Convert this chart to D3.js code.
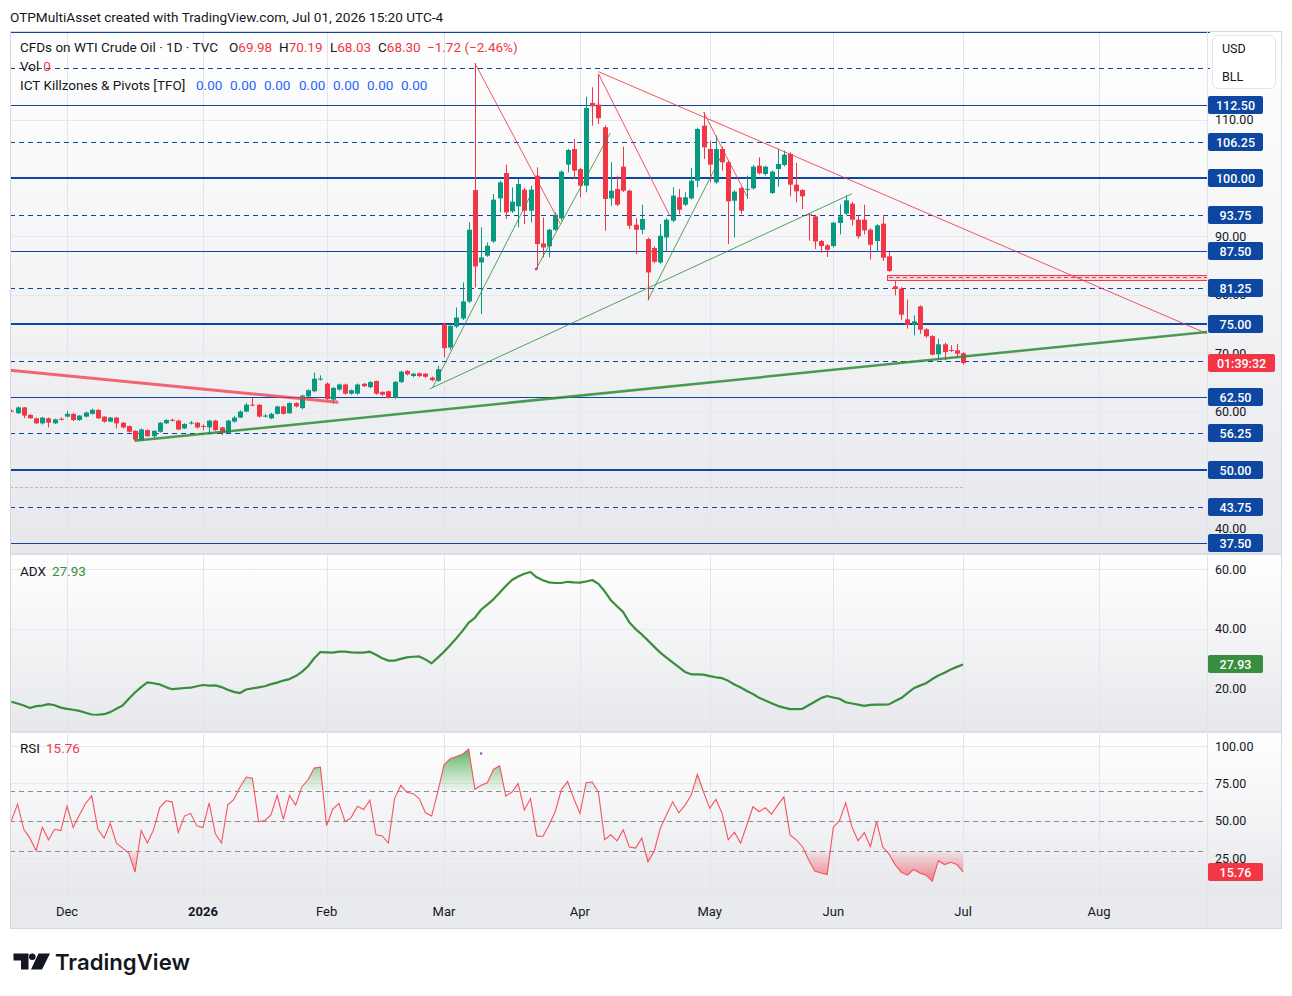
<!DOCTYPE html>
<html>
<head>
<meta charset="utf-8">
<script src="https://cdn.jsdelivr.net/npm/d3@7"></script>
<style>
  body { margin: 0; background: #fff; }
  svg { display: block; font-family: Roboto, "Noto Sans", sans-serif; }
</style>
</head>
<body>
<svg id="chart" width="1292" height="996"></svg>
<script>
// daily candles [open, high, low, close], Nov 17 2025 -> Jul 01 2026
var candles = [
  [60.15,60.4,59.9,60.1],[59.72,60.9,59.6,60.71],[60.71,60.8,58.85,59.32],[59.43,59.6,58.8,58.85],
  [58.85,59.0,57.9,57.99],[57.99,59.1,57.8,58.97],[58.85,59.0,57.29,58.1],[57.99,58.8,57.9,58.68],
  [58.78,59.0,58.5,58.72],[59.14,60.13,59.0,59.61],[59.61,59.8,58.4,58.56],[58.56,59.4,58.4,59.32],
  [59.14,60.0,59.0,59.84],[59.61,60.5,59.5,60.3],[60.3,60.4,58.7,58.85],[59.14,59.2,58.1,58.28],
  [58.28,59.1,58.2,58.97],[58.97,59.1,57.12,57.99],[58.1,58.2,57.1,57.29],[57.52,57.6,56.4,56.54],
  [56.71,56.8,55.1,55.21],[55.1,57.1,55.0,56.94],[56.83,57.0,55.7,55.79],[55.79,56.8,55.5,56.71],
  [56.54,58.2,56.4,58.1],[57.99,58.7,57.9,58.56],[58.6,58.8,58.3,58.5],[58.45,58.6,56.8,56.94],
  [57.12,58.0,57.0,57.87],[58.05,58.4,57.8,58.12],[58.1,58.2,57.1,57.29],[57.55,57.8,56.83,57.5],
  [57.29,58.6,56.37,58.45],[58.45,58.6,56.7,56.83],[57.29,57.4,55.96,56.37],[56.37,58.6,56.2,58.45],
  [58.28,59.2,58.1,58.97],[58.97,60.2,58.9,60.01],[60.01,61.5,59.9,61.17],[61.2,62.33,60.9,61.15],
  [61.17,61.3,59.0,59.14],[59.25,59.6,59.0,59.32],[58.85,59.8,58.7,59.61],[59.61,61.0,59.5,60.88],
  [60.88,61.0,59.5,59.61],[59.72,61.6,59.6,61.46],[61.46,61.6,60.7,60.88],[60.59,62.9,60.4,62.73],
  [62.62,63.8,62.5,63.66],[63.48,66.67,63.3,65.63],[65.6,66.2,65.3,65.66],[64.81,65.0,62.0,62.15],
  [62.04,64.2,61.34,64.06],[63.77,64.8,63.6,64.64],[64.64,64.8,62.9,63.08],[63.08,63.8,62.9,63.66],
  [63.08,64.8,62.9,64.64],[64.76,64.9,64.2,64.35],[64.18,65.2,64.0,65.05],[65.22,65.3,62.9,63.08],
  [63.37,63.5,62.7,62.9],[63.48,63.6,62.2,62.33],[62.33,65.2,62.2,65.1],[65.05,67.0,64.9,66.84],
  [66.96,67.1,66.2,66.38],[66.09,66.6,65.9,66.49],[66.55,66.7,65.9,66.09],[66.49,66.6,65.8,65.97],
  [65.83,66.0,65.2,65.37],[65.26,67.83,65.1,67.26],[74.97,75.2,69.26,70.86],[70.97,75.0,70.6,74.69],
  [74.57,77.83,74.3,76.11],[75.94,82.11,75.7,78.86],[78.86,92.4,78.6,91.14],[97.94,119.66,81.26,84.86],
  [85.54,91.54,76.69,86.4],[86.69,88.97,86.5,88.4],[89.14,97.26,88.9,96.29],[96.51,99.5,94.11,99.26],
  [100.86,102.29,92.97,94.11],[94.29,98.4,94.0,95.94],[95.14,99.83,91.54,98.97],[98.0,98.3,92.11,94.4],
  [94.4,98.69,92.4,98.0],[100.4,101.83,84.4,88.69],[88.8,93.26,86.4,88.11],[88.29,91.3,86.4,91.14],
  [91.14,94.11,90.9,93.71],[93.09,101.3,92.7,101.09],[102.29,105.0,100.97,104.8],[104.97,106.69,99.83,101.26],
  [101.54,101.7,96.69,98.69],[98.69,113.94,97.54,112.0],[112.86,115.54,108.97,112.29],[112.57,117.83,109.26,110.23],
  [108.69,109.0,90.97,96.4],[96.51,102.69,95.26,97.83],[98.11,100.4,95.2,95.43],[101.94,105.37,97.6,97.83],
  [97.83,98.0,91.26,91.83],[92.0,93.14,86.97,91.14],[91.14,95.43,90.4,92.97],[89.54,89.8,79.09,83.83],
  [88.0,88.3,85.43,85.66],[85.54,92.11,85.3,90.11],[89.83,93.1,87.54,92.86],[92.69,98.4,92.4,96.97],
  [96.69,98.11,93.83,94.57],[95.43,97.54,95.2,96.69],[96.51,101.71,96.3,99.54],[99.54,108.6,98.4,108.4],
  [108.97,111.26,103.26,105.26],[104.97,106.4,99.26,102.29],[99.26,107.26,99.0,104.97],[104.97,105.37,101.26,102.69],
  [102.69,103.0,88.69,96.0],[96.11,97.9,89.83,97.66],[98.29,98.5,93.83,94.4],[98.0,100.4,96.4,98.15],
  [98.23,102.2,98.0,101.94],[102.11,103.54,100.6,100.8],[100.69,102.1,100.4,101.94],[97.43,101.3,97.26,101.09],
  [101.54,104.97,98.51,102.4],[102.23,104.69,102.0,104.0],[104.11,104.4,96.86,98.86],[98.86,102.57,95.83,97.71],
  [97.94,98.1,94.69,96.86],[93.8,94.0,89.26,93.65],[93.43,93.6,87.83,89.14],[89.21,89.4,87.21,88.36],
  [88.47,88.7,86.47,87.73],[88.36,92.5,88.1,92.35],[92.29,95.49,90.35,93.44],[93.89,97.03,93.6,96.18],
  [95.6,95.9,91.89,92.86],[92.86,93.61,89.61,90.01],[92.86,95.43,90.35,91.04],[91.15,91.4,86.02,88.58],
  [89.21,92.1,87.33,91.89],[92.18,93.61,85.79,86.36],[86.59,87.33,83.9,84.08],[81.45,82.48,79.91,80.99],
  [81.05,81.3,75.63,76.6],[75.8,79.17,74.2,74.88],[74.88,76.48,73.06,75.46],[78.02,78.2,73.34,74.03],
  [74.09,74.3,72.66,72.89],[72.94,73.1,69.63,69.75],[69.81,72.49,68.9,71.52],[71.52,71.8,68.78,70.2],
  [70.55,71.35,70.2,70.45],[70.49,71.6,69.35,69.92],[69.98,70.19,68.03,68.30]
];

var adx = [
  15.4,14.8,14.1,13.3,13.9,14.1,14.6,14.2,13.4,13.0,12.7,12.3,11.7,11.1,11.0,11.2,11.9,13.0,14.1,16.4,
  18.5,20.3,21.9,21.6,21.2,20.3,19.6,19.8,20.0,20.1,20.6,21.0,20.8,20.9,20.3,19.4,18.7,18.3,19.5,19.9,
  20.2,20.6,21.3,21.8,22.5,23.0,24.0,25.4,27.3,30.0,32.1,32.0,31.9,32.2,32.2,32.0,31.9,31.9,32.2,31.2,
  30.0,29.2,29.2,29.8,30.3,30.5,30.6,29.6,28.3,30.2,32.2,34.4,36.7,39.2,42.0,43.6,46.3,48.0,49.8,52.0,
  54.3,56.3,57.5,58.4,59.0,57.2,56.2,55.5,55.3,55.3,55.7,55.5,55.4,55.8,56.3,55.0,52.5,49.5,47.5,45.5,
  42.0,39.8,38.0,36.0,33.9,31.9,30.2,28.6,27.0,25.4,24.6,24.6,24.5,24.0,23.6,23.3,22.4,21.2,20.2,19.0,
  18.0,16.7,15.8,14.9,14.0,13.4,12.9,12.9,13.0,14.2,15.4,16.6,17.3,16.8,16.4,15.2,14.8,14.4,14.0,14.3,
  14.4,14.4,14.5,15.6,16.6,18.3,19.9,20.8,21.6,23.0,24.2,25.1,26.2,27.1,27.93
];

var rsi = [
  50.0,61.1,44.2,38.3,29.9,45.6,37.2,44.2,43.4,59.7,45.4,53.8,61.5,66.6,44.2,38.3,48.2,35.0,31.6,28.3,
  15.5,43.4,35.0,43.8,58.8,63.3,62.6,42.0,53.1,54.9,46.5,45.4,61.9,41.2,35.0,60.4,64.2,72.6,79.2,78.5,
  49.3,50.0,53.8,67.0,50.9,67.0,60.4,72.6,77.4,85.2,85.8,46.7,57.7,61.5,49.3,52.2,59.7,57.5,63.7,40.5,
  39.8,35.0,64.8,73.7,69.0,68.1,64.8,55.3,53.1,69.2,87.4,91.4,92.9,94.5,98.0,71.0,73.7,75.4,84.3,86.7,
  66.4,69.2,74.8,57.1,64.8,39.8,39.4,47.1,56.0,70.8,76.3,64.8,54.9,75.4,75.9,68.8,37.2,40.5,36.5,43.8,
  32.3,31.6,38.3,22.5,29.4,44.9,53.8,62.6,55.3,60.4,67.0,81.0,69.2,58.2,64.2,54.9,37.2,42.3,35.0,47.1,
  59.3,56.0,58.6,54.4,60.4,65.9,40.5,37.2,32.7,23.9,16.2,15.0,13.9,45.6,50.0,61.9,46.0,36.5,42.0,32.7,
  49.3,32.3,27.7,20.6,15.5,13.5,17.3,15.0,13.5,9.5,23.2,20.6,22.1,20.6,15.76
];

var holidays = ["2025-11-27", "2025-12-25", "2026-01-01", "2026-01-19", "2026-02-16",
                "2026-04-03", "2026-05-25", "2026-06-19", "2026-07-03"];

// hand drawn horizontal levels
var levels = [37.5, 43.75, 50, 56.25, 62.5, 68.75, 75, 81.25, 87.5, 93.75, 100, 106.25, 112.5, 118.75, 125];
var levelLabels = [37.5, 43.75, 50, 56.25, 62.5, 81.25, 75, 87.5, 93.75, 100, 106.25, 112.5];
var priceTicks = [40, 60, 70, 80, 90, 110];
var priceGrid = [40, 50, 60, 70, 80, 90, 100, 110];
var adxTicks = [20, 40, 60];
var rsiTicks = [25, 50, 75, 100];
var rsiBands = [30, 50, 70];

// trend lines in [bar index, price]
var redLines = [
  { pts: [[-0.3, 67.1], [52.9, 61.6]], w: 3, op: 0.75 },
  { pts: [[75, 119.66], [88.8, 92.2]], w: 1, op: 0.85 },
  { pts: [[95, 117.83], [106.6, 93.4]], w: 1, op: 0.85 },
  { pts: [[95, 118.2], [194, 73.1]], w: 1, op: 0.85 },
  { pts: [[112, 111.3], [119, 96.9]], w: 1, op: 0.85 }
];
var greenLines = [
  { pts: [[19.9, 55.0], [194, 73.7]], w: 2.5, op: 0.85 },
  { pts: [[67.7, 63.9], [136, 97.3]], w: 1, op: 0.8 },
  { pts: [[68.2, 64.2], [84, 97.0]], w: 1, op: 0.8 },
  { pts: [[84.9, 84.4], [96.9, 107.7]], w: 1, op: 0.8 },
  { pts: [[103, 79.1], [114.7, 103.4]], w: 1, op: 0.8 }
];
var zone = { from: 142, top: 83.45, bottom: 82.65 };
var greyLevel = 47.1;
var pivotDots = [[84.9, 84.4]];
var rsiDots = [[76, 95]];

var last = { o: 69.98, h: 70.19, l: 68.03, c: 68.30, chg: "\u22121.72 (\u22122.46%)" };

// ---------------------------------------------------------------------------
var svg = d3.select("#chart");
var left = 10, plotRight = 1207, right = 1281;
var mainTop = 32, mainBot = 553, adxTop = 555, adxBot = 731, rsiTop = 733, rsiBot = 897, axisBot = 928;
var green = "#089981", red = "#f23645", navy = "#0d47a1", textCol = "#131722";

var isHoliday = {};
holidays.forEach(function(h) { isHoliday[h] = true; });
var fmtDay = d3.timeFormat("%Y-%m-%d");
var days = d3.timeDay.range(new Date(2025, 10, 17), new Date(2026, 8, 1)).filter(function(d) {
  return d.getDay() !== 0 && d.getDay() !== 6 && !isHoliday[fmtDay(d)];
});

var x = d3.scaleLinear().domain([0, candles.length - 1]).range([11.4, 963.1]);
var yP = d3.scaleLinear().domain([37.5, 125]).range([543, 32]);
var yA = d3.scaleLinear().domain([20, 60]).range([688, 569]);
var yR = d3.scaleLinear().domain([25, 100]).range([858, 746]);
function crisp(v) { return Math.round(v) + 0.5; }

var defs = svg.append("defs");
var pg = defs.append("linearGradient").attr("id", "paneGrad").attr("x1", 0).attr("y1", 0).attr("x2", 0).attr("y2", 1);
pg.append("stop").attr("offset", "0%").attr("stop-color", "#ffffff");
pg.append("stop").attr("offset", "100%").attr("stop-color", "#e7e8ec");

function clip(id, y0, y1) {
  defs.append("clipPath").attr("id", id).append("rect")
    .attr("x", left).attr("y", y0).attr("width", plotRight - left).attr("height", y1 - y0);
}
clip("clipMain", mainTop, mainBot);
clip("clipAdx", adxTop, adxBot);
clip("clipRsi", rsiTop, rsiBot);
clip("clipOB", rsiTop, yR(70));
clip("clipOS", yR(30), rsiBot);

var gOB = defs.append("linearGradient").attr("id", "obGrad").attr("gradientUnits", "userSpaceOnUse")
  .attr("x1", 0).attr("x2", 0).attr("y1", yR(100)).attr("y2", yR(70));
gOB.append("stop").attr("offset", "0%").attr("stop-color", "#2e9d3a").attr("stop-opacity", 0.85);
gOB.append("stop").attr("offset", "100%").attr("stop-color", "#4caf50").attr("stop-opacity", 0.04);
var gOS = defs.append("linearGradient").attr("id", "osGrad").attr("gradientUnits", "userSpaceOnUse")
  .attr("x1", 0).attr("x2", 0).attr("y1", yR(30)).attr("y2", yR(5));
gOS.append("stop").attr("offset", "0%").attr("stop-color", red).attr("stop-opacity", 0.04);
gOS.append("stop").attr("offset", "100%").attr("stop-color", red).attr("stop-opacity", 0.7);

// header
svg.append("text").attr("x", 10).attr("y", 22).attr("font-size", 13.6).attr("fill", textCol)
  .text("OTPMultiAsset created with TradingView.com, Jul 01, 2026 15:20 UTC-4");

// pane backgrounds
[[mainTop - 1, mainBot], [adxTop, adxBot], [rsiTop, rsiBot]].forEach(function(p) {
  svg.append("rect").attr("x", left).attr("y", p[0]).attr("width", right - left)
    .attr("height", p[1] - p[0]).attr("fill", "url(#paneGrad)");
});
svg.append("rect").attr("x", left).attr("y", rsiBot).attr("width", right - left)
  .attr("height", axisBot - rsiBot).attr("fill", "#e9eaee");
[mainBot, adxBot].forEach(function(y) {
  svg.append("rect").attr("x", left).attr("y", y).attr("width", right - left).attr("height", 2).attr("fill", "#dcdee4");
});

// month ticks
var monthTicks = [];
for (var i = 1; i < days.length; i++) {
  if (days[i].getMonth() !== days[i - 1].getMonth()) monthTicks.push({ i: i, d: days[i] });
}
monthTicks = monthTicks.filter(function(t) { return x(t.i) < plotRight - 20; });

svg.append("g").selectAll("line").data(monthTicks).enter().append("line")
  .attr("x1", function(t) { return crisp(x(t.i)); })
  .attr("x2", function(t) { return crisp(x(t.i)); })
  .attr("y1", mainTop).attr("y2", rsiBot)
  .attr("stroke", "#e3e5ea");

svg.append("g").selectAll("text").data(monthTicks).enter().append("text")
  .attr("x", function(t) { return x(t.i); }).attr("y", 916)
  .attr("text-anchor", "middle").attr("font-size", 13).attr("fill", textCol)
  .attr("font-weight", function(t) { return t.d.getMonth() === 0 ? 700 : 400; })
  .text(function(t) { return t.d.getMonth() === 0 ? d3.timeFormat("%Y")(t.d) : d3.timeFormat("%b")(t.d); });

// horizontal grids
function hgrid(vals, scale) {
  svg.append("g").selectAll("line").data(vals).enter().append("line")
    .attr("x1", left).attr("x2", plotRight)
    .attr("y1", function(v) { return crisp(scale(v)); })
    .attr("y2", function(v) { return crisp(scale(v)); })
    .attr("stroke", "#e6e8ed");
}
hgrid(priceGrid, yP);
hgrid(adxTicks, yA);
hgrid(rsiTicks, yR);

// ---- main pane
var main = svg.append("g");

main.append("line").attr("x1", left).attr("x2", x(candles.length - 1))
  .attr("y1", crisp(yP(greyLevel))).attr("y2", crisp(yP(greyLevel)))
  .attr("stroke", "#b8bbc4").attr("stroke-dasharray", "3,2");

// level lines: every 25 thick, every 12.5 solid, rest dashed
main.append("g").selectAll("line").data(levels).enter().append("line")
  .attr("x1", left).attr("x2", plotRight + 3)
  .attr("y1", function(v) { return v % 25 === 0 ? Math.round(yP(v)) : crisp(yP(v)); })
  .attr("y2", function(v) { return v % 25 === 0 ? Math.round(yP(v)) : crisp(yP(v)); })
  .attr("stroke", navy)
  .attr("stroke-width", function(v) { return v % 25 === 0 ? 2 : 1; })
  .attr("stroke-dasharray", function(v) { return v % 12.5 === 0 ? null : "5,4"; });

var cg = main.append("g").attr("clip-path", "url(#clipMain)");

// red zone
cg.append("rect").attr("x", Math.round(x(zone.from)) - 1.5).attr("y", crisp(yP(zone.top)))
  .attr("width", plotRight - x(zone.from) + 2).attr("height", Math.round(yP(zone.bottom) - yP(zone.top)))
  .attr("fill", "rgba(242,54,69,0.15)").attr("stroke", red).attr("stroke-width", 1);
cg.append("line").attr("x1", x(zone.from)).attr("x2", plotRight)
  .attr("y1", crisp(yP((zone.top + zone.bottom) / 2))).attr("y2", crisp(yP((zone.top + zone.bottom) / 2)))
  .attr("stroke", red).attr("stroke-dasharray", "4,3");

// candles
function col(d) { return d[3] >= d[0] ? green : red; }
cg.selectAll("line.wick").data(candles).enter().append("line")
  .attr("class", "wick")
  .attr("x1", function(d, i) { return crisp(x(i)); })
  .attr("x2", function(d, i) { return crisp(x(i)); })
  .attr("y1", function(d) { return yP(d[1]); })
  .attr("y2", function(d) { return yP(d[2]); })
  .attr("stroke", col);
cg.selectAll("rect.body").data(candles).enter().append("rect")
  .attr("class", "body")
  .attr("x", function(d, i) { return Math.round(x(i)) - 2; })
  .attr("width", 5)
  .attr("y", function(d) { return yP(Math.max(d[0], d[3])); })
  .attr("height", function(d) { return Math.max(1, Math.abs(yP(d[0]) - yP(d[3]))); })
  .attr("fill", col);

// trend lines
var tl = d3.line().x(function(p) { return x(p[0]); }).y(function(p) { return yP(p[1]); });
cg.selectAll("path.red").data(redLines).enter().append("path")
  .attr("d", function(d) { return tl(d.pts); })
  .attr("fill", "none").attr("stroke", "#f23645")
  .attr("stroke-width", function(d) { return d.w; })
  .attr("stroke-opacity", function(d) { return d.op; });
cg.selectAll("path.grn").data(greenLines).enter().append("path")
  .attr("d", function(d) { return tl(d.pts); })
  .attr("fill", "none").attr("stroke", "#2e8b36")
  .attr("stroke-width", function(d) { return d.w; })
  .attr("stroke-opacity", function(d) { return d.op; });
cg.selectAll("circle").data(pivotDots).enter().append("circle")
  .attr("cx", function(p) { return x(p[0]); }).attr("cy", function(p) { return yP(p[1]); })
  .attr("r", 1.3).attr("fill", "#b03fc0");

// ---- ADX pane
svg.append("path").datum(adx).attr("clip-path", "url(#clipAdx)")
  .attr("d", d3.line().x(function(d, i) { return x(i); }).y(function(d) { return yA(d); }))
  .attr("fill", "none").attr("stroke", "#388e3c").attr("stroke-width", 2.2).attr("stroke-linejoin", "round");

// ---- RSI pane
svg.append("g").selectAll("line").data(rsiBands).enter().append("line")
  .attr("x1", left).attr("x2", plotRight)
  .attr("y1", function(v) { return crisp(yR(v)); }).attr("y2", function(v) { return crisp(yR(v)); })
  .attr("stroke", "#8a8d96").attr("stroke-dasharray", "5,4");
var rx = function(d, i) { return x(i); };
svg.append("path").datum(rsi).attr("clip-path", "url(#clipOB)")
  .attr("d", d3.area().x(rx).y0(yR(70)).y1(function(d) { return yR(d); }))
  .attr("fill", "url(#obGrad)");
svg.append("path").datum(rsi).attr("clip-path", "url(#clipOS)")
  .attr("d", d3.area().x(rx).y0(yR(30)).y1(function(d) { return yR(d); }))
  .attr("fill", "url(#osGrad)");
svg.append("path").datum(rsi).attr("clip-path", "url(#clipRsi)")
  .attr("d", d3.line().x(rx).y(function(d) { return yR(d); }))
  .attr("fill", "none").attr("stroke", "#f7525f").attr("stroke-width", 1.1);
svg.append("g").selectAll("circle").data(rsiDots).enter().append("circle")
  .attr("cx", function(p) { return x(p[0]); }).attr("cy", function(p) { return yR(p[1]); })
  .attr("r", 1.2).attr("fill", "#b03fc0");

// ---- frame
svg.append("line").attr("x1", plotRight + 0.5).attr("x2", plotRight + 0.5).attr("y1", mainTop).attr("y2", axisBot)
  .attr("stroke", "#e0e3eb");
svg.append("rect").attr("x", left + 0.5).attr("y", 31.5).attr("width", right - left).attr("height", axisBot - 31)
  .attr("fill", "none").attr("stroke", "#d6d8de");

// ---- right axis
var ax = svg.append("g").attr("font-size", 12.5);
function tickLabels(vals, scale) {
  ax.append("g").selectAll("text").data(vals).enter().append("text")
    .attr("x", 1215).attr("y", function(v) { return scale(v) + 4.5; })
    .attr("fill", textCol).text(function(v) { return v.toFixed(2); });
}
tickLabels(priceTicks, yP);
tickLabels(adxTicks, yA);
tickLabels(rsiTicks, yR);

function badge(yc, w, fill, label) {
  var g = ax.append("g");
  g.append("rect").attr("x", 1208).attr("y", Math.round(yc) - 9).attr("width", w).attr("height", 18)
    .attr("rx", 2).attr("fill", fill);
  g.append("text").attr("x", 1208 + w / 2).attr("y", Math.round(yc) + 4.5).attr("text-anchor", "middle")
    .attr("fill", "#fff").attr("font-weight", 500).text(label);
}
levelLabels.forEach(function(v) { badge(yP(v), 55, navy, v.toFixed(2)); });
badge(yP(last.c), 67, red, "01:39:32");
badge(yA(adx[adx.length - 1]), 55, "#388e3c", adx[adx.length - 1].toFixed(2));
badge(yR(rsi[rsi.length - 1]), 55, red, rsi[rsi.length - 1].toFixed(2));

// currency box
var cb = svg.append("g").attr("font-size", 12.5).attr("fill", textCol);
cb.append("rect").attr("x", 1212.5).attr("y", 35.5).attr("width", 63).attr("height", 53).attr("rx", 6)
  .attr("fill", "#fff").attr("stroke", "#e3e5ea");
cb.append("text").attr("x", 1222).attr("y", 53).text("USD");
cb.append("text").attr("x", 1222).attr("y", 81).text("BLL");

// ---- legends
var lg = svg.append("g").attr("font-size", 13.5).attr("fill", textCol);
lg.append("text").attr("x", 20).attr("y", 52).text("CFDs on WTI Crude Oil \u00b7 1D \u00b7 TVC");
[["O", last.o, 229], ["H", last.h, 279], ["L", last.l, 330], ["C", last.c, 378]].forEach(function(o) {
  var t = lg.append("text").attr("x", o[2]).attr("y", 52);
  t.append("tspan").text(o[0]);
  t.append("tspan").attr("fill", red).text(o[1].toFixed(2));
});
lg.append("text").attr("x", 427).attr("y", 52).attr("fill", red).text(last.chg);
var vt = lg.append("text").attr("x", 20).attr("y", 71);
vt.append("tspan").text("Vol");
vt.append("tspan").attr("fill", red).attr("dx", 4).text("0");
lg.append("text").attr("x", 20).attr("y", 90).text("ICT Killzones & Pivots [TFO]");
[196, 230, 264, 299, 333, 367, 401].forEach(function(px) {
  lg.append("text").attr("x", px).attr("y", 90).attr("fill", "#2962ff").text("0.00");
});
var at = lg.append("text").attr("x", 20).attr("y", 576);
at.append("tspan").text("ADX");
at.append("tspan").attr("dx", 6).attr("fill", "#388e3c").text(adx[adx.length - 1].toFixed(2));
var rt = lg.append("text").attr("x", 20).attr("y", 753);
rt.append("tspan").text("RSI");
rt.append("tspan").attr("dx", 6).attr("fill", red).text(rsi[rsi.length - 1].toFixed(2));

// ---- TradingView logo
var logo = svg.append("g").attr("fill", textCol);
logo.append("path").attr("d", "M13.5,953.5H28.5V969.5H21V960.5H13.5Z");
logo.append("circle").attr("cx", 32.3).attr("cy", 956.8).attr("r", 3.3);
logo.append("path").attr("d", "M38.5,953.5H50L42,969.5H31Z");
logo.append("text").attr("x", 55).attr("y", 970).attr("font-size", 22).attr("font-weight", 600)
  .attr("font-family", "Inter, Roboto, sans-serif").attr("textLength", 135).attr("lengthAdjust", "spacingAndGlyphs")
  .text("TradingView");
</script>
</body>
</html>
